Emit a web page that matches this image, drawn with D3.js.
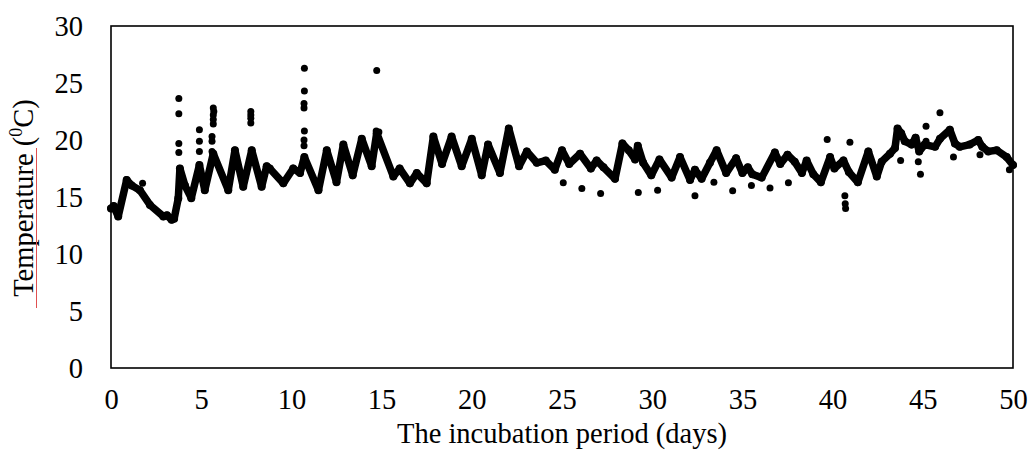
<!DOCTYPE html>
<html>
<head>
<meta charset="utf-8">
<script src="https://cdn.jsdelivr.net/npm/d3@7"></script>
<style>
  body { margin: 0; background: #fff; }
  text { font-family: "Liberation Serif", "Times New Roman", serif; fill: #000; }
</style>
</head>
<body>
<svg id="chart" width="1032" height="450"></svg>
<script>
// main temperature trace (peaks and troughs)
var trendDays = [0.0, 0.15, 0.4, 0.87, 1.15, 1.6, 2.16, 2.9, 3.1, 3.36, 3.5, 3.73,
    3.82, 4.1, 4.45, 4.9, 5.2, 5.67, 6.5, 6.87, 7.33, 7.8, 8.35, 8.63, 8.8,
    9.55, 10.1, 10.48, 10.72, 11.5, 11.96, 12.5, 12.88, 13.4, 13.9, 14.45, 14.73,
    15.65, 16.0, 16.57, 16.95, 17.5, 17.87, 18.35, 18.88, 19.44, 20.0, 20.55, 20.9,
    21.56, 22.05, 22.62, 23.05, 23.6, 24.1, 24.6, 25.0, 25.4, 26.0, 26.6, 26.92,
    27.3, 27.94, 28.35, 28.7, 29.05, 29.2, 29.5, 29.95, 30.4, 31.08, 31.54, 32.1,
    32.37, 32.74, 33.2, 33.57, 34.1, 34.65, 35.0, 35.3, 35.55, 36.07, 36.8, 37.1,
    37.5, 37.9, 38.3, 38.56, 38.93, 39.35, 39.86, 40.1, 40.6, 40.9, 41.4, 41.98,
    42.45, 42.72, 43.18, 43.46, 43.6, 43.8, 44.0, 44.38, 44.6, 44.8, 45.1, 45.68,
    45.95, 46.5, 46.78, 47.05, 47.6, 48.07, 48.3, 48.63, 49.1, 49.65, 50.0];
var trendTemps = [14.0, 14.2, 13.3, 16.5, 16.0, 15.6, 14.3, 13.3, 13.4, 13.0, 13.1, 14.9,
    17.5, 16.0, 14.9, 17.8, 15.6, 18.8, 15.6, 19.1, 15.9, 19.1, 15.9, 17.7, 17.5,
    16.2, 17.5, 17.1, 18.5, 15.6, 19.1, 16.3, 19.6, 16.9, 20.1, 17.7, 20.6,
    16.8, 17.5, 16.2, 17.1, 16.2, 20.3, 17.9, 20.3, 17.7, 20.1, 16.9, 19.6,
    17.1, 21.0, 17.7, 19.0, 18.0, 18.2, 17.4, 19.1, 17.9, 18.8, 17.5, 18.2,
    17.6, 16.6, 19.7, 19.1, 18.3, 19.5, 18.0, 16.9, 18.3, 16.7, 18.5, 16.5,
    17.4, 16.6, 18.0, 19.1, 17.1, 18.4, 17.1, 17.6, 17.0, 16.7, 18.9, 17.9,
    18.7, 18.1, 17.1, 18.2, 17.0, 16.3, 18.5, 17.5, 18.2, 17.2, 16.3, 19.0,
    16.8, 18.1, 18.8, 19.3, 21.0, 20.6, 19.9, 19.6, 20.2, 19.0, 19.6, 19.4,
    20.1, 20.9, 19.7, 19.4, 19.6, 20.0, 19.4, 19.0, 19.1, 18.5, 17.8];

// single readings lying off the main trace
var spotDays = [1.75, 3.76, 3.76, 3.76, 3.76, 4.9, 4.9, 4.9,
    5.67, 5.7, 5.67, 5.67, 5.67, 5.6, 5.6, 5.6, 7.75, 7.75, 7.75, 7.75,
    10.72, 10.72, 10.7, 10.7, 10.72, 10.7, 10.7, 14.73, 14.7, 14.85,
    25.07, 26.1, 27.14, 29.23, 30.3, 32.37, 33.42, 34.46, 35.5, 36.53, 37.55,
    39.7, 40.68, 40.7, 40.72, 40.96, 43.77, 44.87, 45.18, 45.18, 45.95, 44.75,
    46.7, 48.17, 49.8];
var spotTemps = [16.2, 23.65, 22.3, 19.7, 18.9, 20.9, 19.9, 19.0,
    22.8, 22.5, 22.2, 21.8, 21.4, 20.3, 19.9, 19.0, 22.5, 22.2, 21.9, 21.5,
    26.3, 24.3, 23.2, 22.8, 20.8, 20.0, 19.5, 26.1, 20.8, 20.7,
    16.25, 15.75, 15.3, 15.4, 15.6, 15.1, 16.3, 15.55, 16.0, 15.8, 16.25,
    20.05, 15.1, 14.4, 14.0, 19.8, 18.2, 17.0, 21.2, 19.9, 22.4, 18.1,
    18.5, 18.7, 17.4];

var xTicks = [0, 5, 10, 15, 20, 25, 30, 35, 40, 45, 50];
var yTicks = [0, 5, 10, 15, 20, 25, 30];

var margin = {top: 26, right: 19, bottom: 82, left: 111},
    width = 1032 - margin.left - margin.right,
    height = 450 - margin.top - margin.bottom;

var fontSize = 28.5;

var svg = d3.select("#chart");
var g = svg.append("g")
    .attr("transform", "translate(" + margin.left + "," + margin.top + ")");

var x = d3.scaleLinear().domain([0, 50]).range([0, width]);
var y = d3.scaleLinear().domain([0, 30]).range([height, 0]);

// axes: labels only, no tick marks
var xAxis = g.append("g")
    .attr("transform", "translate(0," + height + ")")
    .call(d3.axisBottom(x).tickValues(xTicks).tickSize(0).tickPadding(22));
var yAxis = g.append("g")
    .call(d3.axisLeft(y).tickValues(yTicks).tickSize(0).tickPadding(28));
[xAxis, yAxis].forEach(function(a) {
    a.select(".domain").remove();
    a.selectAll("text").attr("font-size", fontSize)
        .attr("font-family", "Liberation Serif, Times New Roman, serif")
        .attr("fill", "#000");
});
yAxis.selectAll("text").attr("dy", "0.34em");
xAxis.selectAll("text").attr("dy", "0.68em");

// plot frame
g.append("rect")
    .attr("x", 0).attr("y", 0)
    .attr("width", width).attr("height", height)
    .attr("fill", "none")
    .attr("stroke", "#000")
    .attr("stroke-width", 1.6);

var trend = trendDays.map(function(d, i) { return [d, trendTemps[i]]; });
var spots = spotDays.map(function(d, i) { return [d, spotTemps[i]]; });

var line = d3.line()
    .x(function(d) { return x(d[0]); })
    .y(function(d) { return y(d[1]); });

g.append("path")
    .datum(trend)
    .attr("d", line)
    .attr("fill", "none")
    .attr("stroke", "#000")
    .attr("stroke-width", 7.5)
    .attr("stroke-linejoin", "round")
    .attr("stroke-linecap", "round");

g.selectAll("circle.trend").data(trend).enter()
    .append("circle")
    .attr("class", "trend")
    .attr("cx", function(d) { return x(d[0]); })
    .attr("cy", function(d) { return y(d[1]); })
    .attr("r", 4)
    .attr("fill", "#000");

g.selectAll("circle.spot").data(spots).enter()
    .append("circle")
    .attr("class", "spot")
    .attr("cx", function(d) { return x(d[0]); })
    .attr("cy", function(d) { return y(d[1]); })
    .attr("r", 3.5)
    .attr("fill", "#000");

// axis titles
svg.append("text")
    .attr("x", margin.left + width / 2)
    .attr("y", 443)
    .attr("text-anchor", "middle")
    .attr("font-size", fontSize)
    .text("The incubation period (days)");

var ylab = svg.append("text")
    .attr("transform", "translate(33," + (margin.top + height / 2 + 1) + ") rotate(-90)")
    .attr("text-anchor", "middle")
    .attr("font-size", fontSize);
ylab.append("tspan").text("Temperature (");
ylab.append("tspan").attr("font-size", 18).attr("dy", -11).text("0");
ylab.append("tspan").attr("dy", 11).text("C)");

// red spell-check underline under "Temperature"
svg.append("line")
    .attr("x1", 36.5).attr("x2", 36.5)
    .attr("y1", 308).attr("y2", 148)
    .attr("stroke", "#e05050")
    .attr("stroke-width", 1);
</script>
</body>
</html>
